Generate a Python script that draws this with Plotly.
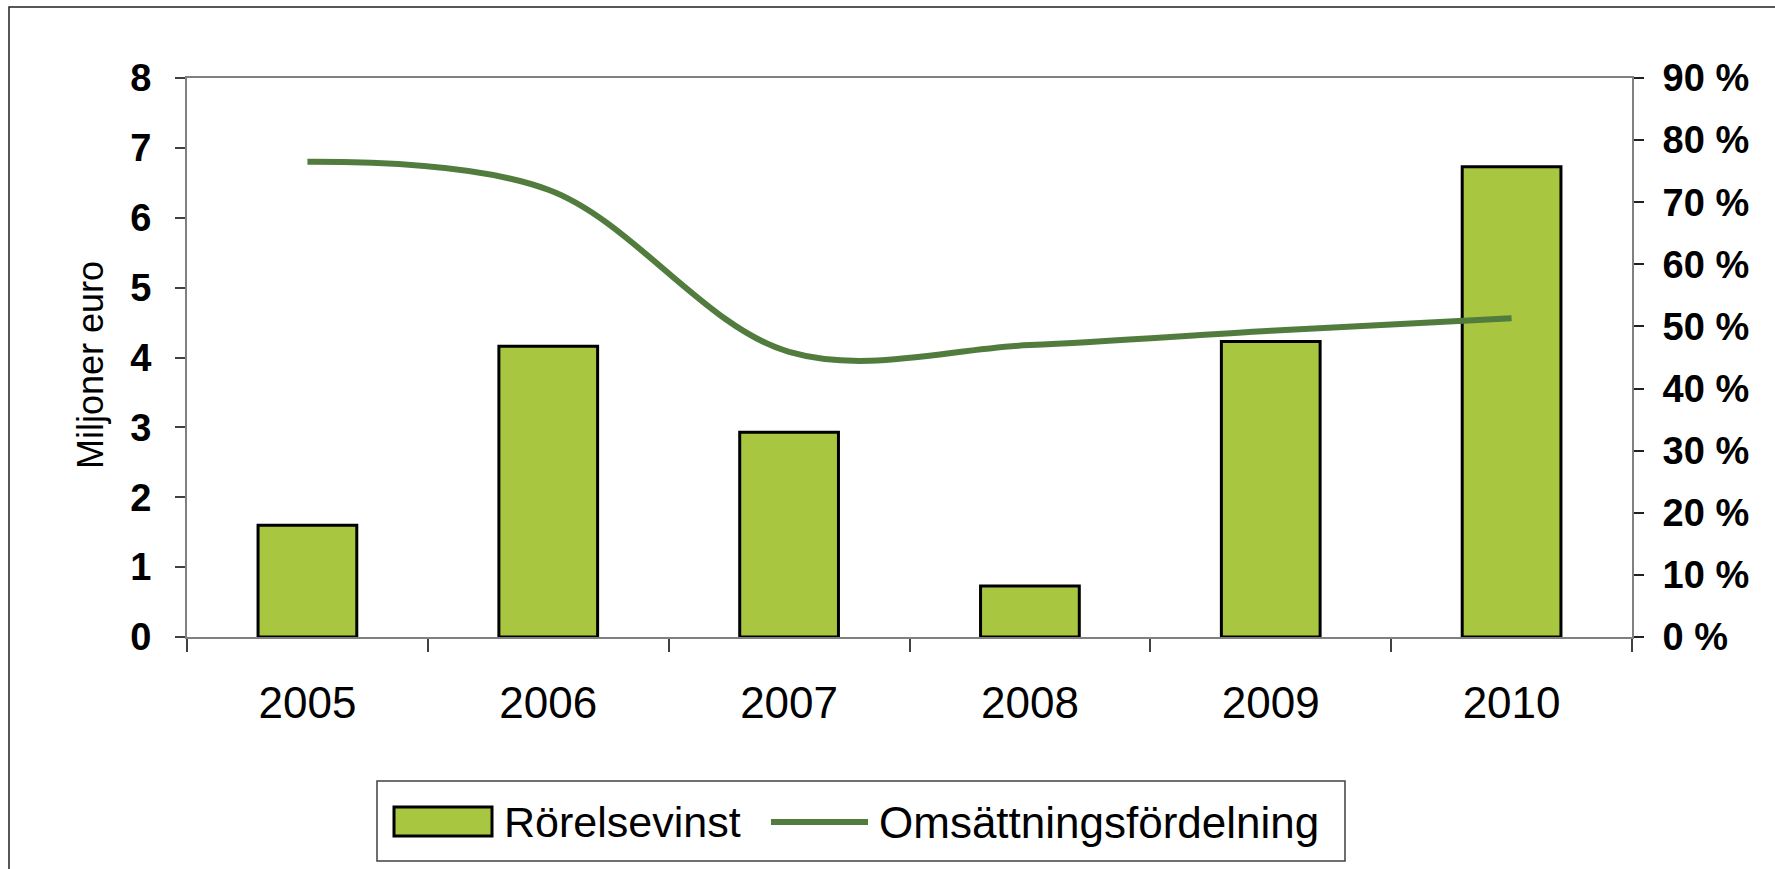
import plotly.graph_objects as go

# ---- data ----
years = ["2005", "2006", "2007", "2008", "2009", "2010"]
rorelsevinst = [1.6, 4.16, 2.93, 0.73, 4.23, 6.73]          # Miljoner euro (left axis)
omsattning = [76.5, 72.0, 45.9, 47.0, 49.3, 51.3]          # % (right axis)
left_ticks = [0, 1, 2, 3, 4, 5, 6, 7, 8]
right_ticks = [0, 10, 20, 30, 40, 50, 60, 70, 80, 90]
right_labels = [f"{v} %" for v in right_ticks]
legend_names = ["Rörelsevinst", "Omsättningsfördelning"]
y_title = "Miljoner euro"

# ---- style ----
W, H = 1775, 869
L, R, T, B = 187, 143, 78, 232
BAR_FILL = "#A8C63F"
LINE_COL = "#527C3E"
AXIS_COL = "#808080"
FONT = "Liberation Sans, Arial, sans-serif"

pw, ph = W - L - R, H - T - B


def px_x(x):
    return (x - L) / pw


def px_y(y):
    return (H - B - y) / ph


fig = go.Figure()
fig.add_trace(go.Bar(
    x=years, y=rorelsevinst, name=legend_names[0],
    marker=dict(color=BAR_FILL, line=dict(color="black", width=3)),
    yaxis="y", showlegend=False,
))
fig.add_trace(go.Scatter(
    x=years, y=omsattning, name=legend_names[1], mode="lines",
    line=dict(color=LINE_COL, width=6, shape="spline", smoothing=1.0),
    yaxis="y2", showlegend=False,
))

fig.update_layout(
    width=W, height=H,
    margin=dict(l=L, r=R, t=T, b=B, pad=0),
    paper_bgcolor="white", plot_bgcolor="white",
    bargap=0.59,
    font=dict(family=FONT, color="black"),
    xaxis=dict(
        type="category", tickson="boundaries", ticks="outside", ticklen=13,
        tickcolor="#404040", tickwidth=1.5,
        showline=True, linecolor=AXIS_COL, linewidth=2, mirror=True,
        showgrid=False, tickfont=dict(size=44, family=FONT),
        ticklabelstandoff=26,
    ),
    yaxis=dict(
        range=[0, 8], tickvals=left_ticks, ticks="outside", ticklen=10,
        tickcolor="#404040", tickwidth=1.5,
        showline=True, linecolor=AXIS_COL, linewidth=2, mirror=True,
        showgrid=False, zeroline=False,
        tickfont=dict(size=38, family=FONT, weight="bold"),
        ticklabelstandoff=16,
    ),
    yaxis2=dict(
        range=[0, 90], tickvals=right_ticks, ticktext=right_labels,
        overlaying="y", side="right", anchor="x",
        ticks="outside", ticklen=10, tickcolor="#202020", tickwidth=1.5,
        showline=True, linecolor=AXIS_COL, linewidth=2,
        showgrid=False, zeroline=False,
        tickfont=dict(size=38, family=FONT, weight="bold"),
        ticklabelstandoff=11,
    ),
    yaxis3=dict(
        range=[0, 90], tickvals=right_ticks, overlaying="y", side="right",
        anchor="x", ticks="inside", ticklen=10, tickcolor="#202020",
        tickwidth=1.5, showticklabels=False, showline=False,
        showgrid=False, zeroline=False,
    ),
)

# y axis title as annotation
fig.add_annotation(
    text=y_title, xref="paper", yref="paper", x=px_x(91), y=px_y(365),
    textangle=-90, showarrow=False, xanchor="center", yanchor="middle",
    font=dict(size=36, family=FONT, color="black"),
)

# outer border
fig.add_shape(type="rect", xref="paper", yref="paper",
              x0=px_x(9), y0=px_y(7), x1=px_x(W + 20), y1=px_y(H + 20),
              line=dict(color="#202020", width=1.5), fillcolor="rgba(0,0,0,0)",
              layer="below")

# custom legend
fig.add_shape(type="rect", xref="paper", yref="paper",
              x0=px_x(377), y0=px_y(781), x1=px_x(1345), y1=px_y(861),
              line=dict(color="#404040", width=1.5), fillcolor="white")
fig.add_shape(type="rect", xref="paper", yref="paper",
              x0=px_x(394), y0=px_y(807), x1=px_x(492), y1=px_y(836),
              line=dict(color="black", width=3), fillcolor=BAR_FILL)
fig.add_shape(type="line", xref="paper", yref="paper",
              x0=px_x(771), y0=px_y(822), x1=px_x(868), y1=px_y(822),
              line=dict(color=LINE_COL, width=6))
fig.add_annotation(text=legend_names[0], xref="paper", yref="paper",
                   x=px_x(502), y=px_y(822), xanchor="left", yanchor="middle",
                   showarrow=False, font=dict(size=43, family=FONT))
fig.add_annotation(text=legend_names[1], xref="paper", yref="paper",
                   x=px_x(877), y=px_y(822), xanchor="left", yanchor="middle",
                   showarrow=False, font=dict(size=44, family=FONT))

fig.write_html(
    "out.html",
    config={"displayModeBar": False},
    post_script="document.body.style.margin='0';document.body.style.overflow='hidden';",
)
